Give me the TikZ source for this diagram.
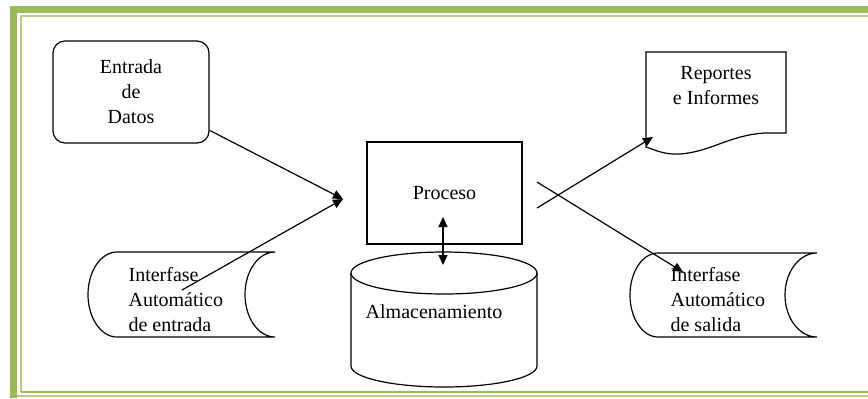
\documentclass[tikz,border=0pt]{standalone}
\usepackage{fontspec}
\setmainfont{Liberation Serif}
\usetikzlibrary{arrows.meta}
\definecolor{bordergreen}{HTML}{9BBB59}
\definecolor{borderlight}{HTML}{B5CD85}

\begin{document}
\begin{tikzpicture}[x=0.5pt,y=0.5pt,line width=0.6pt]
\tikzstyle{every node}+=[inner sep=0pt,font=\fontsize{10}{12.5}\selectfont]
\tikzstyle{flow}=[-{Triangle[length=5pt,width=4.5pt]}]
\tikzstyle{both}=[{Triangle[length=5pt,width=4.5pt]}-{Triangle[length=5pt,width=4.5pt]}]
\useasboundingbox (0,0) rectangle (868,-398);
% marco verde
\fill [bordergreen] (10,-6) rectangle (868,-13);
\fill [bordergreen] (10,-6) rectangle (17,-398);
\draw [borderlight,line width=0.8pt] (21,-392) -- (21,-16) -- (868,-16);
\draw [bordergreen,line width=1pt] (21,-392) -- (868,-392);
\draw [borderlight,line width=0.6pt] (17,-396) -- (868,-396);
% cajas
\node [draw,rounded corners=6pt,minimum width=78pt,minimum height=51pt,align=center] (entrada) at (131,-92) {Entrada\\de\\Datos};
\node [draw,minimum width=77.5pt,minimum height=51pt] (proceso) at (444.5,-193) {Proceso};
% almacenamiento
\draw [black] (351,-273) -- (351,-366) arc [start angle=180,end angle=360,x radius=46.5pt,y radius=10.5pt] -- (537,-273);
\draw [black] (444,-273) ellipse [x radius=46.5pt,y radius=10.5pt];
\node (almac) at (434,-312) {Almacenamiento};
% interfases
\draw [black] (275,-252) -- (117,-252) arc [start angle=90,end angle=270,x radius=14.5pt,y radius=21.25pt] -- (275,-337) arc [start angle=270,end angle=90,x radius=15pt,y radius=21.25pt];
\node [align=left,anchor=west] (ientrada) at (128,-300) {Interfase\\Automático\\de entrada};
\draw [black] (817,-253) -- (658,-253) arc [start angle=90,end angle=270,x radius=14pt,y radius=21pt] -- (817,-337) arc [start angle=270,end angle=90,x radius=16pt,y radius=21pt];
\node [align=left,anchor=west] (isalida) at (670,-300) {Interfase\\Automático\\de salida};
% reportes
\draw [black] (646,-52) -- (786,-52) -- (786,-133) -- (765,-133) .. controls (730,-135) and (710,-152) .. (680,-154) .. controls (665,-155) and (655,-150) .. (646,-147) -- cycle;
\node [align=center] (reportes) at (716,-86) {Reportes\\e Informes};
% puntos de las flechas
\coordinate (join) at (343,-199);
\coordinate (ie) at (182,-290);
\coordinate (pa) at (537,-182);
\coordinate (pb) at (537,-208);
\coordinate (st) at (683,-272);
\coordinate (rp) at (653,-137);
\coordinate (up) at (443,-217);
\coordinate (dn) at (443,-265);
% flechas
\draw [flow] (entrada.-26) -- (join);
\draw [flow] (ie) -- (join);
\draw [flow] (pb) -- (rp);
\draw [flow] (pa) -- (st);
\draw [both] (up) -- (dn);
\end{tikzpicture}
\end{document}
